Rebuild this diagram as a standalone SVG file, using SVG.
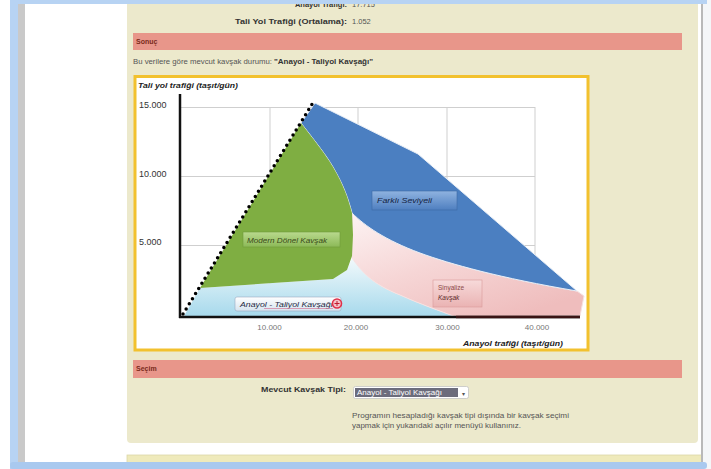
<svg xmlns="http://www.w3.org/2000/svg" width="711" height="469" viewBox="0 0 711 469">
<style>
  text { font-family: "Liberation Sans", Arial, sans-serif; }
  .lbl { font-size: 7.5px; font-weight: bold; fill: #333; }
  .val { font-size: 7.5px; fill: #555; }
  .bar { fill: #e8968a; }
  .bartxt { font-size: 7px; font-weight: bold; fill: #7a2a1a; }
  .grid { stroke: #cfcfcf; stroke-width: 1; fill: none; }
  .ylab { font-size: 9px; fill: #333; }
  .xlab { font-size: 8px; fill: #777; text-anchor: middle; }
  .ttl { font-size: 7px; font-weight: bold; font-style: italic; fill: #222; }
  .btn { font-style: italic; }
  .help { font-size: 7px; fill: #555; }
</style>
<defs>
  <linearGradient id="pinkG" x1="0" y1="0" x2="0.7" y2="1">
    <stop offset="0" stop-color="#fdf3f3"/>
    <stop offset="0.5" stop-color="#f6d6d6"/>
    <stop offset="1" stop-color="#efbdbd"/>
  </linearGradient>
  <linearGradient id="lbG" x1="0" y1="0" x2="0" y2="1">
    <stop offset="0" stop-color="#f2f9fb"/>
    <stop offset="1" stop-color="#a6d9ec"/>
  </linearGradient>
  <linearGradient id="btnGreen" x1="0" y1="0" x2="0" y2="1">
    <stop offset="0" stop-color="#b9d98e"/>
    <stop offset="1" stop-color="#8cb957"/>
  </linearGradient>
  <linearGradient id="btnBlue" x1="0" y1="0" x2="0" y2="1">
    <stop offset="0" stop-color="#8fb3e0"/>
    <stop offset="1" stop-color="#4f7fc0"/>
  </linearGradient>
  <linearGradient id="btnLight" x1="0" y1="0" x2="0" y2="1">
    <stop offset="0" stop-color="#ffffff"/>
    <stop offset="1" stop-color="#d6e4ef"/>
  </linearGradient>
  <linearGradient id="btnPink" x1="0" y1="0" x2="0" y2="1">
    <stop offset="0" stop-color="#f7dada"/>
    <stop offset="1" stop-color="#eab3b3"/>
  </linearGradient>
</defs>

<!-- window frame / page background -->
<g id="page">
  <rect x="0" y="0" width="711" height="469" fill="#ffffff"/>
  <rect x="10" y="0" width="8" height="469" fill="#b7d3f3"/>
  <rect x="18" y="0" width="7" height="462" fill="#c9c9c9"/>
  <rect x="127" y="-6" width="571" height="449" rx="4" fill="#ece9cc"/>
  <rect x="127" y="455" width="580" height="8" fill="#efeabb" stroke="#dcd7a8" stroke-width="0.8"/>
  <rect x="701" y="0" width="2" height="462" fill="#b9b9b9"/>
  <rect x="703" y="0" width="8" height="469" fill="#f4f6f8"/>
</g>

<!-- header figures -->
<g id="header">
  <text class="lbl" x="347" y="6.5" text-anchor="end">Anayol Trafiği:</text>
  <text class="val" x="352" y="6.5">17.715</text>
  <text class="lbl" x="347" y="24" text-anchor="end" textLength="112" lengthAdjust="spacingAndGlyphs">Tali Yol Trafiği (Ortalama):</text>
  <text class="val" x="352" y="24">1.052</text>
</g>

<g id="frame-top">
  <rect x="10" y="0" width="697" height="4" fill="#b7d3f3"/>
</g>

<g id="sonuc">
  <rect class="bar" x="133" y="33" width="549" height="17"/>
  <text class="bartxt" x="136" y="44">Sonuç</text>
  <text x="133" y="64" font-size="7px" fill="#555" textLength="139" lengthAdjust="spacingAndGlyphs">Bu verilere göre mevcut kavşak durumu:</text>
  <text x="274" y="64" font-size="7px" font-weight="bold" fill="#333" textLength="99" lengthAdjust="spacingAndGlyphs">"Anayol - Taliyol Kavşağı"</text>
</g>

<!-- chart -->
<g id="chart">
  <rect x="135" y="76.5" width="453" height="273.5" fill="#ffffff" stroke="#f2c12e" stroke-width="3"/>
  <text class="ttl" x="138" y="88" textLength="100" lengthAdjust="spacingAndGlyphs">Tali yol trafiği (taşıt/gün)</text>

  <g id="grid">
    <line class="grid" x1="181" y1="107.5" x2="535" y2="107.5"/>
    <line class="grid" x1="181" y1="176.5" x2="535" y2="176.5"/>
    <line class="grid" x1="181" y1="245.5" x2="535" y2="245.5"/>
    <line class="grid" x1="270" y1="107" x2="270" y2="316"/>
    <line class="grid" x1="358" y1="107" x2="358" y2="316"/>
    <line class="grid" x1="447" y1="107" x2="447" y2="316"/>
    <line class="grid" x1="535" y1="107" x2="535" y2="316"/>
  </g>

  <g id="ylabels">
    <text class="ylab" x="139" y="108">15.000</text>
    <text class="ylab" x="139" y="177">10.000</text>
    <text class="ylab" x="139" y="245">5.000</text>
  </g>

  <g id="region-anayol">
    <path d="M184,316 L200,288 L333,279 L347,270 L352,258 C362,272 372,284 400,295 C420,304 440,311 456,317 L184,317 Z" fill="url(#lbG)"/>
  </g>
  <g id="region-sinyalize">
    <path d="M352,213 C365,226 385,240 420,253 C450,264 500,278 577,291 L584,296 L580,316 L456,317 C440,311 420,304 400,295 C372,284 362,272 352,258 Z" fill="url(#pinkG)" stroke="#f6e2e2" stroke-width="1"/>
  </g>
  <g id="region-farkli">
    <path d="M315,103 L418,154 L577,291 C500,278 450,264 420,253 C385,240 365,226 352,213 C348,198 344,186 333,167 C326,155 318,145 301,123 Z" fill="#4b7fc1" stroke="#e8eef6" stroke-width="1"/>
  </g>
  <g id="region-modern">
    <path d="M301,123 C318,145 326,155 333,167 C344,186 348,198 352,213 L353,235 L352,256 L347,270 L333,279 L200,288 Z" fill="#7fae42"/>
  </g>

  <g id="axes">
    <line x1="180" y1="94" x2="180" y2="318" stroke="#111" stroke-width="2.5"/>
    <line x1="179" y1="317" x2="580" y2="317" stroke="#111" stroke-width="2.5"/>
    <line x1="456" y1="317" x2="580" y2="317" stroke="#3a1414" stroke-width="2.5"/>
    <line x1="183" y1="314" x2="314" y2="101" stroke="#000" stroke-width="3.5" stroke-linecap="round" stroke-dasharray="0 6"/>
  </g>

  <g id="label-modern">
    <rect x="243" y="232" width="97" height="15" fill="url(#btnGreen)" stroke="#6f9a3a" stroke-width="0.6"/>
    <text class="btn" x="247" y="242.5" font-size="7px" fill="#3a4a1a" textLength="80" lengthAdjust="spacingAndGlyphs">Modern Dönel Kavşak</text>
  </g>
  <g id="label-farkli">
    <rect x="372" y="191" width="85" height="19" fill="url(#btnBlue)" stroke="#3d6aa6" stroke-width="0.6"/>
    <text class="btn" x="377" y="203" font-size="7.5px" fill="#15233f" textLength="55" lengthAdjust="spacingAndGlyphs">Farklı Seviyeli</text>
  </g>
  <g id="label-anayol">
    <rect x="235" y="297" width="106" height="14" rx="2" fill="url(#btnLight)" stroke="#9aaac0" stroke-width="0.6"/>
    <text class="btn" x="240" y="306.5" font-size="8px" fill="#1f2a44" textLength="93" lengthAdjust="spacingAndGlyphs">Anayol - Taliyol Kavşağı</text>
    <line x1="264" y1="308.5" x2="333" y2="308.5" stroke="#d27a9a" stroke-width="0.7"/>
    <circle cx="337" cy="303.5" r="4.5" fill="#f4c2c8" stroke="#e0304a" stroke-width="1.6"/>
    <path d="M334.5,303.5 H339.5 M337,301 V306" stroke="#c01a30" stroke-width="1"/>
  </g>
  <g id="label-sinyalize">
    <rect x="433" y="280" width="49" height="27" fill="url(#btnPink)" stroke="#d99a9a" stroke-width="0.6"/>
    <text x="438" y="289.5" font-size="6.5px" fill="#8a4a4a">Sinyalize</text>
    <text x="438" y="299.5" font-size="6.5px" font-style="italic" fill="#5a2a2a">Kavşak</text>
  </g>

  <g id="xlabels">
    <text class="xlab" x="269.5" y="330">10.000</text>
    <text class="xlab" x="356" y="330">20.000</text>
    <text class="xlab" x="447.5" y="330">30.000</text>
    <text class="xlab" x="537" y="330">40.000</text>
    <text class="ttl" x="463" y="346" textLength="100" lengthAdjust="spacingAndGlyphs">Anayol trafiği (taşıt/gün)</text>
  </g>
</g>

<g id="secim">
  <rect class="bar" x="133" y="360" width="549" height="18"/>
  <text class="bartxt" x="136" y="371">Seçim</text>
  <text class="lbl" x="346" y="392" text-anchor="end" textLength="85" lengthAdjust="spacingAndGlyphs">Mevcut Kavşak Tipi:</text>
  <g id="select">
    <rect x="353.5" y="386.5" width="115" height="12" rx="2" fill="#ffffff" stroke="#c4c4c4" stroke-width="0.8"/>
    <rect x="355" y="388" width="103" height="9" fill="#6c6c7c"/>
    <text x="357" y="395.3" font-size="7px" fill="#ffffff" textLength="85" lengthAdjust="spacingAndGlyphs">Anayol - Taliyol Kavşağı</text>
    <text x="463" y="395.5" font-size="6px" fill="#555" text-anchor="middle">▾</text>
  </g>
  <text class="help" x="352" y="418" textLength="217" lengthAdjust="spacingAndGlyphs">Programın hesapladığı kavşak tipi dışında bir kavşak seçimi</text>
  <text class="help" x="352" y="428" textLength="169" lengthAdjust="spacingAndGlyphs">yapmak için yukarıdaki açılır menüyü kullanınız.</text>
</g>

<g id="frame-bottom">
  <rect x="10" y="462" width="697" height="7" rx="3" fill="#a9c9ef"/>
</g>
</svg>
